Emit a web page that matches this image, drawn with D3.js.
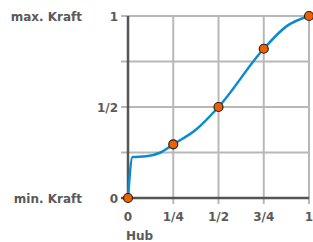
<!doctype html>
<html>
  <head>
    <meta charset="utf-8">
    <title>Kraft-Hub</title>
    <script src="https://d3js.org/d3.v7.min.js"></script>
    <style type="text/css">
      body { margin: 0; background-color: #ffffff }
      text { font-family: "DejaVu Sans", sans-serif; font-weight: bold; font-size: 12px; fill: #5a5a5a }
    </style>
  </head>
  <body>
    <script>
      // Data
      var tickValues = [0, 0.25, 0.5, 0.75, 1];
      var xTickLabels = ["0", "1/4", "1/2", "3/4", "1"];
      var yTickLabels = {0: "0", 0.5: "1/2", 1: "1"};
      var curveX = [0, 0.025, 0.1, 0.18, 0.25, 0.375, 0.5, 0.75, 0.875, 1];
      var curveY = [0, 0.225, 0.229, 0.25, 0.295, 0.375, 0.5, 0.82, 0.943, 1];
      var markerX = [0, 0.25, 0.5, 0.75, 1];
      var markerY = [0, 0.295, 0.5, 0.82, 1];

      var w = 313, h = 242;

      var x = d3.scaleLinear().domain([0, 1]).range([128, 309]);
      var y = d3.scaleLinear().domain([0, 1]).range([198, 16]);

      var svg = d3.select("body").append("svg")
        .attr("width", w).attr("height", h);

      // grid
      var grid = svg.append("g");
      grid.selectAll("line.h").data(tickValues.slice(1)).enter().append("line")
        .attr("x1", 121).attr("x2", x(1))
        .attr("y1", d => y(d)).attr("y2", d => y(d))
        .style("stroke", "#b8b8b8").style("stroke-width", 2);
      grid.selectAll("line.v").data(tickValues.slice(1)).enter().append("line")
        .attr("x1", d => x(d)).attr("x2", d => x(d))
        .attr("y1", y(1)).attr("y2", 204)
        .style("stroke", "#b8b8b8").style("stroke-width", 2);

      // axes
      svg.append("line").attr("x1", x(0)).attr("x2", x(0)).attr("y1", y(1)).attr("y2", 203)
        .style("stroke", "#555").style("stroke-width", 2.5);
      svg.append("line").attr("x1", 121).attr("x2", x(1)).attr("y1", y(0)).attr("y2", y(0))
        .style("stroke", "#555").style("stroke-width", 2.5);

      // tick labels
      svg.selectAll("text.xt").data(tickValues).enter().append("text")
        .attr("x", d => x(d)).attr("y", 221)
        .attr("text-anchor", "middle")
        .text((d, i) => xTickLabels[i]);
      svg.selectAll("text.yt").data([0, 0.5, 1]).enter().append("text")
        .attr("x", 118).attr("y", d => y(d) + 4.5)
        .attr("text-anchor", "end")
        .text(d => yTickLabels[d]);

      svg.append("text").attr("x", 82).attr("y", y(1) + 4.5).attr("text-anchor", "end").text("max. Kraft");
      svg.append("text").attr("x", 82).attr("y", y(0) + 4.5).attr("text-anchor", "end").text("min. Kraft");
      svg.append("text").attr("x", 126).attr("y", 239.5).text("Hub");

      // curve
      var line = d3.line()
        .x(d => x(d[0])).y(d => y(d[1]))
        .curve(d3.curveMonotoneX);
      svg.append("path")
        .datum(d3.zip(curveX, curveY))
        .attr("d", line)
        .style("fill", "none").style("stroke", "#0a8ad0").style("stroke-width", 2.5);

      // markers
      svg.selectAll("circle").data(d3.zip(markerX, markerY)).enter().append("circle")
        .attr("cx", d => x(d[0])).attr("cy", d => y(d[1]))
        .attr("r", 4.5)
        .style("fill", "#f06000").style("stroke", "#222").style("stroke-width", 1.2);
    </script>
  </body>
</html>
